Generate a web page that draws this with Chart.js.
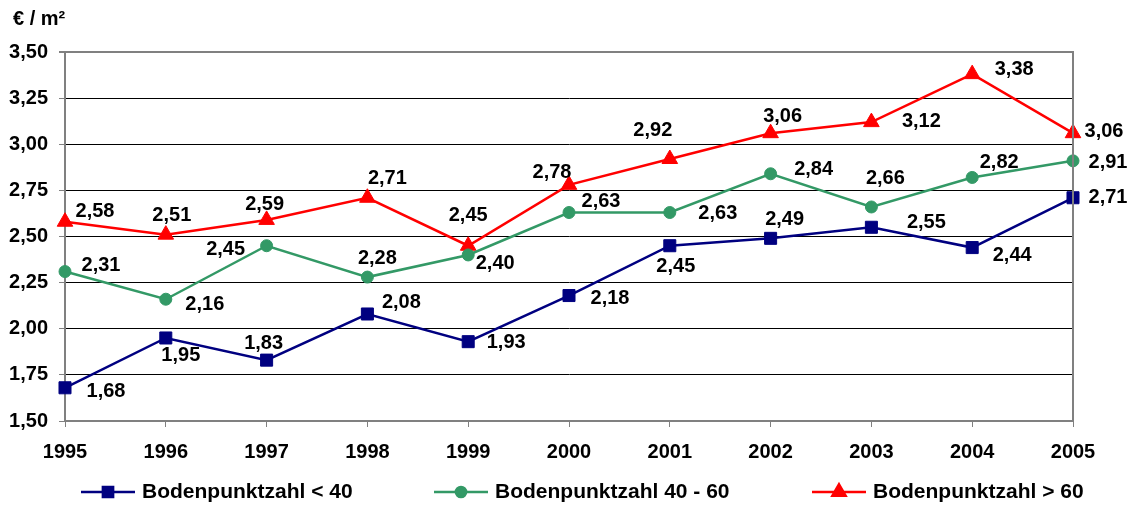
<!DOCTYPE html>
<html>
<head>
<meta charset="utf-8">
<script src="https://cdn.jsdelivr.net/npm/chart.js@4.4.1/dist/chart.umd.min.js"></script>
<style>
  html, body { margin: 0; padding: 0; background: #fff; }
  #wrap { position: relative; width: 1135px; height: 509px; }
</style>
</head>
<body>
<div id="wrap"><canvas id="bodenChart"></canvas></div>
<script>
// Daten
const years = ['1995', '1996', '1997', '1998', '1999', '2000', '2001', '2002', '2003', '2004', '2005'];
const under40 = [1.68, 1.95, 1.83, 2.08, 1.93, 2.18, 2.45, 2.49, 2.55, 2.44, 2.71];
const from40to60 = [2.31, 2.16, 2.45, 2.28, 2.40, 2.63, 2.63, 2.84, 2.66, 2.82, 2.91];
const over60 = [2.58, 2.51, 2.59, 2.71, 2.45, 2.78, 2.92, 3.06, 3.12, 3.38, 3.06];
const yTicks = [1.50, 1.75, 2.00, 2.25, 2.50, 2.75, 3.00, 3.25, 3.50];
const seriesNames = ['Bodenpunktzahl < 40', 'Bodenpunktzahl 40 - 60', 'Bodenpunktzahl > 60'];

// Lage der Wertbeschriftungen (dx, dy zum Punkt)
const offsUnder40 = [[41, 4], [15, 18], [-3, -17], [34, -12], [38, 1], [41, 3], [6, 21], [14, -19], [55, -5], [40, 8], [35, 0]];
const offs40to60 = [[36, -6], [39, 5], [-41, 4], [10, -19], [27, 9], [32, -11], [48, 1], [43, -4], [14, -28], [27, -15], [35, 2]];
const offsOver60 = [[30, -10], [6, -19], [-2, -15], [20, -19], [0, -30], [-17, -12], [-17, -29], [12, -17], [50, -1], [42, -5], [31, -2]];

const FONT = "'Liberation Sans', Arial, sans-serif";
const fmt = v => v.toFixed(2).replace('.', ',');

// Beschriftungen, Legende, Rahmen
const extras = {
  id: 'extras',
  afterDatasetsDraw(chart) {
    const ctx = chart.ctx;
    const offs = [offsUnder40, offs40to60, offsOver60];
    ctx.save();
    ctx.font = 'bold 20px ' + FONT;
    ctx.fillStyle = '#000';
    ctx.textAlign = 'center';
    ctx.textBaseline = 'middle';
    chart.data.datasets.forEach((ds, i) => {
      const meta = chart.getDatasetMeta(i);
      meta.data.forEach((pt, j) => {
        const o = offs[i][j];
        ctx.fillText(fmt(ds.data[j]), pt.x + o[0], pt.y + o[1]);
      });
    });
    ctx.restore();
  },
  afterDraw(chart) {
    const ctx = chart.ctx;
    const a = chart.chartArea;
    ctx.save();
    // rechter Rahmen
    ctx.strokeStyle = '#808080';
    ctx.lineWidth = 2;
    ctx.beginPath();
    ctx.moveTo(a.right, a.top - 1);
    ctx.lineTo(a.right, a.bottom);
    ctx.stroke();

    // Einheit
    ctx.font = 'bold 20px ' + FONT;
    ctx.fillStyle = '#000';
    ctx.textBaseline = 'middle';
    ctx.textAlign = 'left';
    ctx.fillText('€ / m²', 13, 19);

    // Legende
    const lx = [81, 434, 812];
    const ly = 492;
    ctx.font = 'bold 21px ' + FONT;
    chart.data.datasets.forEach((ds, i) => {
      ctx.strokeStyle = ds.borderColor;
      ctx.lineWidth = 2.5;
      ctx.beginPath();
      ctx.moveTo(lx[i], ly);
      ctx.lineTo(lx[i] + 54, ly);
      ctx.stroke();
      ctx.fillStyle = ds.pointBackgroundColor;
      ctx.strokeStyle = ds.pointBorderColor;
      Chart.helpers.drawPoint(ctx, {
        pointStyle: ds.pointStyle,
        radius: ds.pointRadius * 0.85,
        borderWidth: 1,
        rotation: 0
      }, lx[i] + 27, ly);
      ctx.fillStyle = '#000';
      ctx.fillText(seriesNames[i], lx[i] + 61, ly);
    });
    ctx.restore();
  }
};

const mkSet = (label, data, color, style, r) => ({
  label: label,
  data: data,
  borderColor: color,
  backgroundColor: color,
  pointBackgroundColor: color,
  pointBorderColor: color,
  borderWidth: 2.5,
  pointStyle: style,
  pointRadius: r,
  pointBorderWidth: 1,
  tension: 0
});

new Chart(document.getElementById('bodenChart'), {
  type: 'line',
  data: {
    labels: years,
    datasets: [
      mkSet(seriesNames[0], under40, '#000080', 'rect', 8.5),
      mkSet(seriesNames[1], from40to60, '#339966', 'circle', 6),
      mkSet(seriesNames[2], over60, '#FF0000', 'triangle', 9)
    ]
  },
  options: {
    responsive: true,
    maintainAspectRatio: false,
    animation: false,
    layout: { padding: { left: 0, right: 62, top: 52, bottom: 0 } },
    plugins: {
      legend: { display: false },
      tooltip: { enabled: false }
    },
    scales: {
      x: {
        offset: false,
        afterFit: s => { s.height = 88; },
        grid: {
          drawOnChartArea: false,
          drawTicks: true,
          tickLength: 6,
          tickColor: '#808080',
          lineWidth: 1
        },
        border: { color: '#808080', width: 2 },
        ticks: {
          color: '#000',
          padding: 13,
          maxRotation: 0,
          font: { family: FONT, size: 20, weight: 'bold' }
        }
      },
      y: {
        min: 1.5,
        max: 3.5,
        afterFit: s => { s.width = 65; },
        afterBuildTicks: s => { s.ticks = yTicks.map(v => ({ value: v })); },
        grid: {
          color: c => (c.tick && c.tick.value === 3.5) ? '#808080' : '#000',
          lineWidth: c => (c.tick && c.tick.value === 3.5) ? 2 : 1,
          drawTicks: true,
          tickLength: 6,
          tickColor: '#808080'
        },
        border: { color: '#808080', width: 2 },
        ticks: {
          color: '#000',
          padding: 11,
          callback: v => fmt(v),
          font: { family: FONT, size: 20, weight: 'bold' }
        }
      }
    }
  },
  plugins: [extras]
});
</script>
</body>
</html>
